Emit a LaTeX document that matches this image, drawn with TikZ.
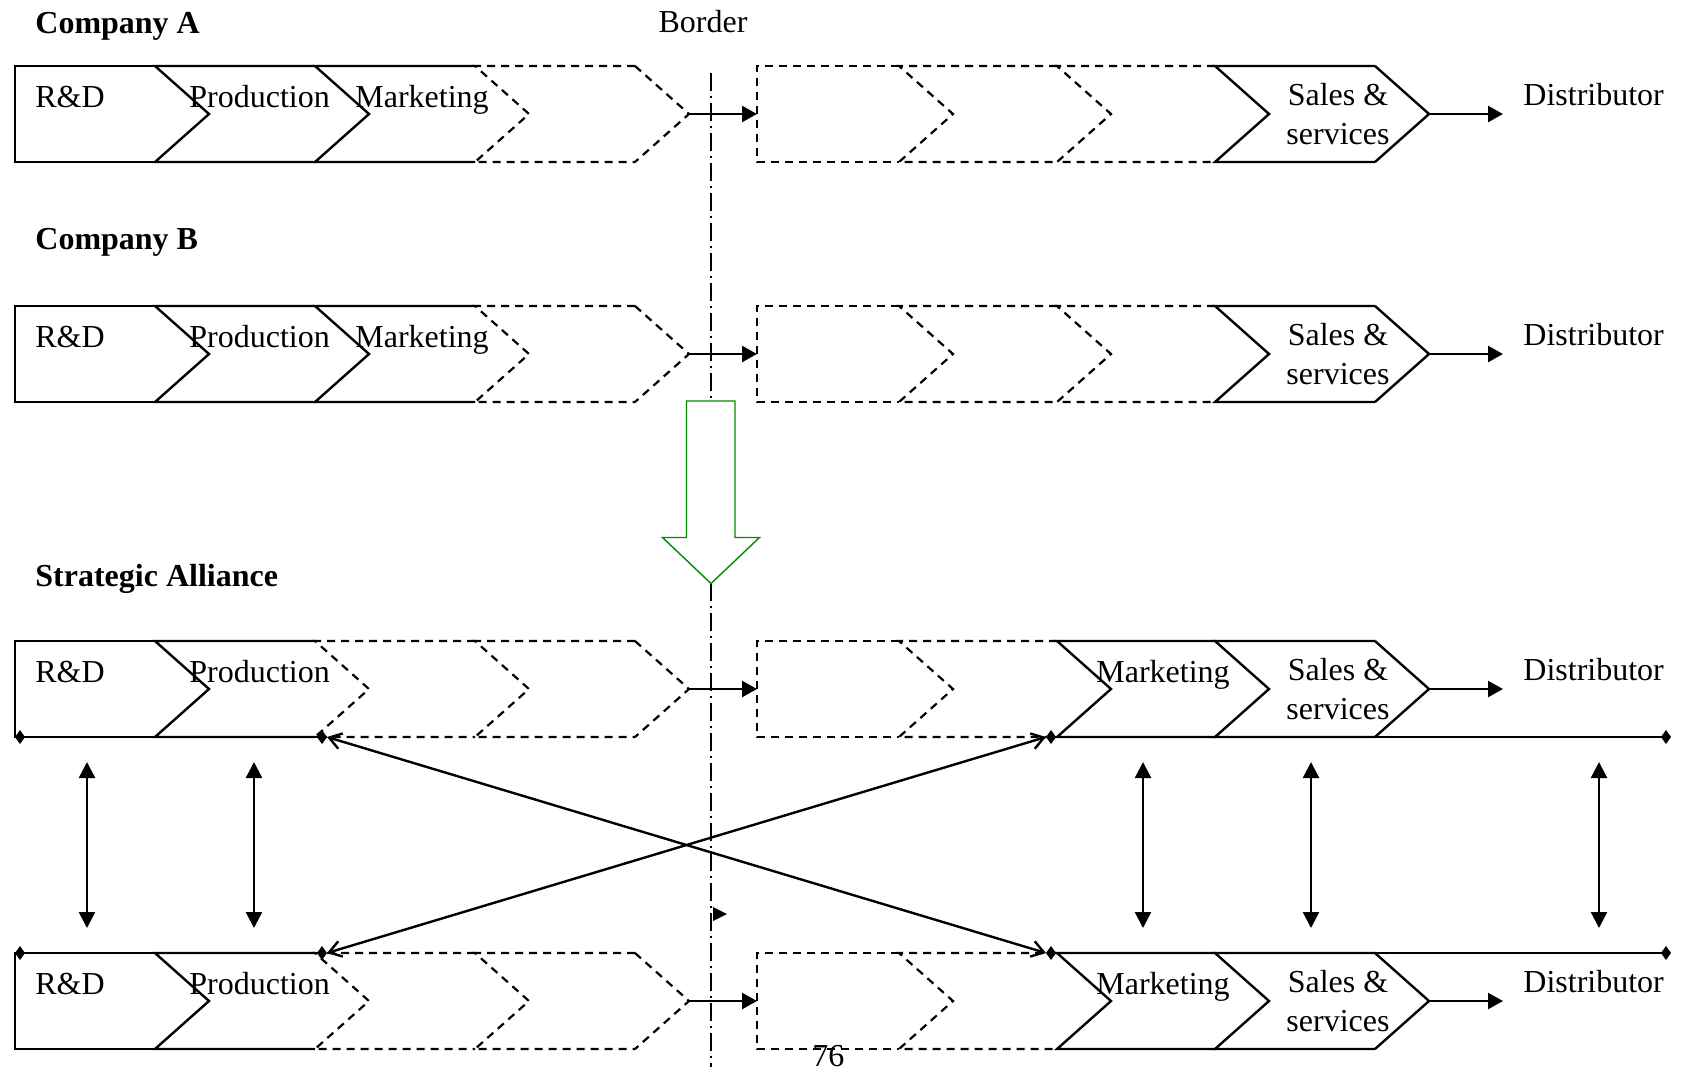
\documentclass[tikz,border=0pt]{standalone}
\usepackage{fontspec}
\setmainfont{Liberation Serif}
\usetikzlibrary{arrows.meta}

\begin{document}
\begin{tikzpicture}
  [x=0.5pt,y=-0.5pt,
   every node/.style={inner sep=0pt,font=\fontsize{16}{19.2}\selectfont},
   lbl/.style={anchor=base west},
   hdr/.style={anchor=base west,font=\fontsize{16}{19.2}\selectfont\bfseries},
   seg/.style={line width=1.2pt},
   dseg/.style={line width=1.1pt,dash pattern=on 4pt off 3pt},
   flow/.style={line width=1.2pt,-{Triangle[length=7.5pt,width=8pt]}},
   link/.style={line width=1.2pt,{Triangle[length=8pt,width=8pt]}-{Triangle[length=8pt,width=8pt]}},
   cross/.style={line width=1.2pt,{Straight Barb[length=6pt,width=8pt]}-{Straight Barb[length=6pt,width=8pt]}},
   bracket/.style={line width=1.2pt,{Diamond[length=5pt,width=7pt]}-{Diamond[length=5pt,width=7pt]}},
   border/.style={line width=0.7pt,dash pattern=on 9pt off 2.5pt on 1pt off 2.5pt},
   gate/.style={draw=green!55!black,fill=white,line width=0.7pt}]
  \useasboundingbox (0,0) rectangle (1682,1071);
  \coordinate (bt) at (711,73);
  \coordinate (bb) at (711,1067);
  \draw[border] (bt) -- (bb);
  \foreach \t in {66,306}
    \foreach \xl/\dl/\xr/\st in {15/0/155/seg,155/54/315/seg,315/54/475/seg,475/54/635/dseg,
                                 757/0/899/dseg,899/54/1057/dseg,1057/54/1215/dseg,1215/54/1375/seg}
      \draw[\st] (\xr,\t) -- (\xl,\t) -- ++(\dl,48) -- (\xl,\t+96) -- (\xr,\t+96);
  \foreach \t in {641,953}
    \foreach \xl/\dl/\xr/\st in {15/0/155/seg,155/54/315/seg,315/54/475/dseg,475/54/635/dseg,
                                 757/0/899/dseg,899/54/1057/dseg,1057/54/1215/seg,1215/54/1375/seg}
      \draw[\st] (\xr,\t) -- (\xl,\t) -- ++(\dl,48) -- (\xl,\t+96) -- (\xr,\t+96);
  \node[hdr] (ca) at (35,33) {Company A};
  \node[hdr] (cb) at (35,249) {Company B};
  \node[hdr] (sa) at (35,586) {Strategic Alliance};
  \node[anchor=base] (bd) at (703,32) {Border};
  \foreach \r/\t in {1/66,2/306,3/641,4/953} {
    \draw[dseg] (635,\t) -- (689,\t+48) -- (635,\t+96);
    \draw[seg] (1375,\t) -- (1429,\t+48) -- (1375,\t+96);
    \node[lbl] (rd\r) at (35,\t+41) {R\&D};
    \node[lbl] (pr\r) at (189,\t+41) {Production};
    \node[anchor=base,align=center] (ss\r) at (1338,\t+78) {Sales \&\\services};
    \node[lbl] (di\r) at (1523,\t+39) {Distributor};
    \coordinate (lt\r) at (689,\t+48);
    \coordinate (rb\r) at (757,\t+48);
    \coordinate (st\r) at (1429,\t+48);
    \coordinate (ds\r) at (1503,\t+48);
    \draw[flow] (lt\r) -- (rb\r);
    \draw[flow] (st\r) -- (ds\r);
  }
  \foreach \r/\x/\t in {1/355/66,2/355/306,3/1096/641,4/1096/953}
    \node[lbl] (mk\r) at (\x,\t+41) {Marketing};
  \draw[gate] (686.5,401) -- (735,401) -- (735,537.5) -- (759.5,537.5) -- (711,583.5)
    -- (662.5,537.5) -- (686.5,537.5) -- cycle;
  \foreach \r/\t in {3/737,4/953} {
    \coordinate (bl\r) at (15,\t);
    \coordinate (bm\r) at (327,\t);
    \coordinate (bn\r) at (1046,\t);
    \coordinate (br\r) at (1671,\t);
    \draw[bracket] (bl\r) -- (bm\r);
    \draw[bracket] (bn\r) -- (br\r);
  }
  \draw[cross] (bm3) -- (bn4);
  \draw[cross] (bn3) -- (bm4);
  \foreach \x in {87,254,1143,1311,1599} {
    \coordinate (up\x) at (\x,762);
    \coordinate (dn\x) at (\x,928);
    \draw[link] (up\x) -- (dn\x);
  }
  \fill (713,907) -- (727,914) -- (713,921) -- cycle;
  \node[lbl] (pg) at (812,1066) {76};
\end{tikzpicture}
\end{document}
